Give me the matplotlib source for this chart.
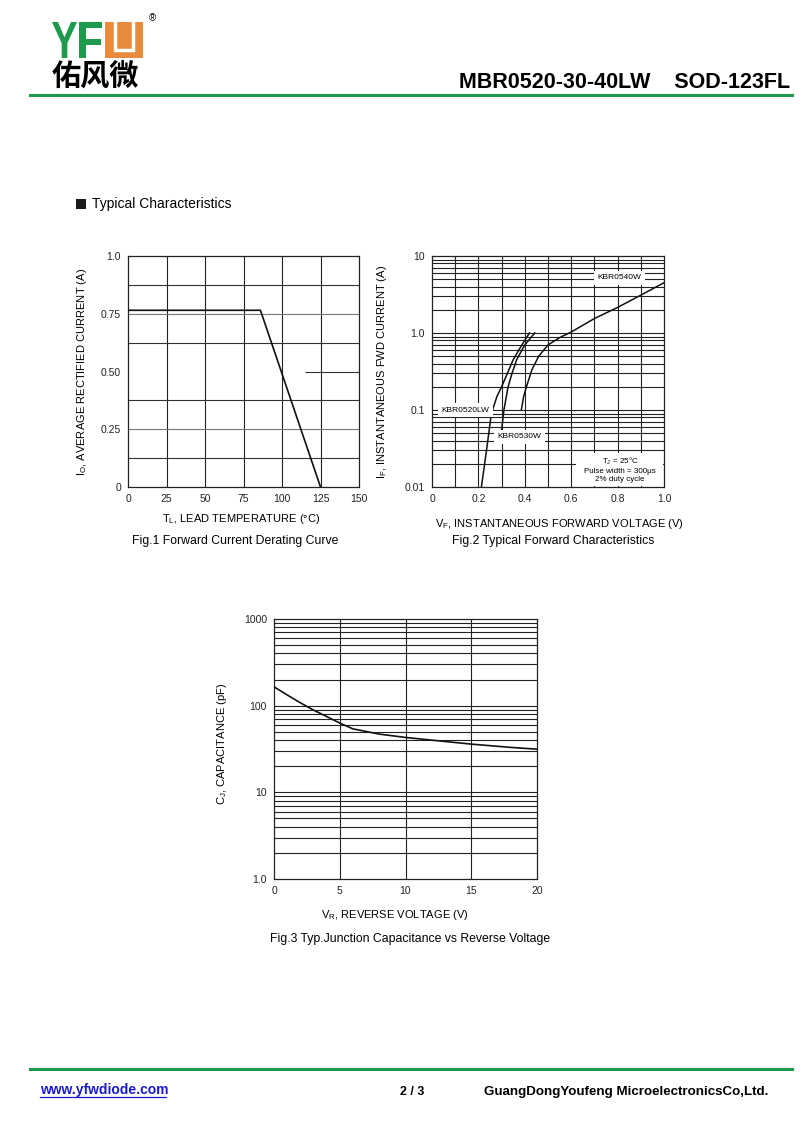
import numpy as np
import matplotlib
matplotlib.use("Agg")
import matplotlib.pyplot as plt
from matplotlib.patches import Rectangle, PathPatch
from matplotlib.textpath import TextPath
from matplotlib.font_manager import FontProperties
from matplotlib.transforms import Affine2D

plt.rcParams['font.family'] = ['Liberation Sans', 'DejaVu Sans']
plt.rcParams['axes.linewidth'] = 0.9

# Fig.1 derating curve
temp_lead = [0, 86, 125]
io_avg = [0.765, 0.765, 0.0]

# Fig.2 forward characteristics (V, A)
vf_0520 = [0.213, 0.235, 0.256, 0.28, 0.30, 0.325, 0.35, 0.385, 0.42]
if_0520 = [0.01, 0.03, 0.09, 0.15, 0.2, 0.3, 0.45, 0.68, 1.0]
vf_0530 = [0.30, 0.31, 0.328, 0.345, 0.365, 0.40, 0.443]
if_0530 = [0.055, 0.1, 0.2, 0.3, 0.45, 0.7, 1.0]
vf_0540 = [0.385, 0.395, 0.407, 0.43, 0.46, 0.50, 0.55, 0.60, 0.70, 0.80, 0.90, 1.0]
if_0540 = [0.1, 0.15, 0.2, 0.33, 0.5, 0.7, 0.87, 1.03, 1.54, 2.15, 3.1, 4.5]

# Fig.3 capacitance (V, pF)
vr = [0, 1, 2, 3, 4, 5, 6, 8, 10, 12, 15, 18, 20]
cj = [165, 133, 108, 89, 75, 63, 54, 47, 43, 40, 36, 33, 31.5]

W, H = 800, 1130
fig = plt.figure(figsize=(8, 11.3), dpi=100)
fig.patch.set_facecolor('white')

green = '#1d9a4c'
orange = '#e98a3c'


def px_axes(x0, y0, x1, y1):
    return fig.add_axes([x0 / W, 1 - y1 / H, (x1 - x0) / W, (y1 - y0) / H])


# page decorations in pixel coordinates
deco = fig.add_axes([0, 0, 1, 1])
deco.set_xlim(0, W)
deco.set_ylim(H, 0)
deco.axis('off')
deco.patch.set_visible(False)

bold = FontProperties(family='Liberation Sans', weight='bold')


def logo_letter(ch, x0, y_base, w, h, color):
    tp = TextPath((0, 0), ch, size=100, prop=bold)
    bb = tp.get_extents()
    tr = (Affine2D().translate(-bb.x0, -bb.y0)
          .scale(w / bb.width, -h / bb.height).translate(x0, y_base))
    deco.add_patch(PathPatch(tr.transform_path(tp), color=color, lw=0))


logo_letter('Y', 52, 58, 25, 36, green)
logo_letter('F', 79, 58, 23, 36, green)
deco.add_patch(Rectangle((105, 22), 38, 36, color=orange, lw=0))
deco.plot([115, 115, 133, 133], [22, 50, 50, 22], color='white', lw=2.5,
          solid_joinstyle='miter')
deco.text(152, 18, '®', fontsize=7, ha='center', va='center')
deco.text(52, 77, '佑风微', fontsize=21, fontweight='bold',
          family=['Noto Sans CJK SC', 'DejaVu Sans'], ha='left', va='center')
deco.text(790, 88, 'MBR0520-30-40LW    SOD-123FL', fontsize=15.5,
          fontweight='bold', ha='right', va='baseline')
deco.plot([30, 792], [95, 95], color=green, lw=2.2)

deco.add_patch(Rectangle((76, 199), 10, 10, color='#1a1a1a', lw=0))
deco.text(92, 204, 'Typical Characteristics', fontsize=10, va='center')

deco.text(235, 541, 'Fig.1 Forward Current Derating Curve', fontsize=8.8,
          ha='center', va='center')
deco.text(553, 541, 'Fig.2 Typical Forward Characteristics', fontsize=8.8,
          ha='center', va='center')
deco.text(410, 939, 'Fig.3 Typ.Junction Capacitance vs Reverse Voltage',
          fontsize=8.8, ha='center', va='center')

deco.plot([30, 792], [1069, 1069], color=green, lw=2.2)
deco.text(40, 1090, 'www.yfwdiode.com', color='#1a1acc', fontsize=10,
          fontproperties=bold, va='center')
deco.plot([40, 166], [1097, 1097], color='#1a1acc', lw=0.9)
deco.text(412, 1092, '2 / 3', fontsize=9, fontproperties=bold,
          ha='center', va='center')
deco.text(768, 1092, 'GuangDongYoufeng MicroelectronicsCo,Ltd.',
          fontproperties=FontProperties(family='Liberation Sans',
                                        weight='bold', size=9.6),
          ha='right', va='center')

tick_fs = 7.5
lab_fs = 8


def style(ax):
    ax.tick_params(length=0, labelsize=tick_fs, pad=5, colors='#222')
    for s in ax.spines.values():
        s.set_color('#222')


# ---------- Fig.1 ----------
ax1 = px_axes(128, 256, 359, 487)
for x in [25, 50, 75, 100, 125]:
    ax1.axvline(x, color='#222', lw=0.8, zorder=1)
for y in [0.125, 0.375, 0.625, 0.875]:
    ax1.axhline(y, color='#333', lw=0.8, zorder=1)
for y in [0.25, 0.75]:
    ax1.axhline(y, color='#777', lw=0.8, zorder=1)
ax1.hlines(0.5, 115, 150, color='#333', lw=0.8, zorder=1)
ax1.plot(temp_lead, io_avg, color='#111', lw=1.2, zorder=3)
ax1.set_xlim(0, 150)
ax1.set_ylim(0, 1.0)
ax1.set_xticks([0, 25, 50, 75, 100, 125, 150])
ax1.set_xticklabels(['0', '25', '50', '75', '100', '125', '150'])
ax1.set_yticks([0, 0.25, 0.5, 0.75, 1.0])
ax1.set_yticklabels(['0', '0.25', '0.50', '0.75', '1.0'])
style(ax1)
ax1.set_xlabel(r'T$_\mathregular{L}$, LEAD TEMPERATURE (°C)', fontsize=lab_fs)
ax1.set_ylabel(r'I$_\mathregular{O}$, AVERAGE RECTIFIED CURRENT (A)',
               fontsize=lab_fs)
ax1.xaxis.set_label_coords(0.49, -0.11)
ax1.yaxis.set_label_coords(-0.17, 0.5)

# ---------- Fig.2 ----------
ax2 = px_axes(432, 256, 664, 487)
ax2.set_yscale('log')
for x in np.arange(0.1, 1.0, 0.1):
    ax2.axvline(x, color='#222', lw=0.8, zorder=1)
for dec in [0.01, 0.1, 1.0]:
    for m in range(1, 10):
        if dec * m > 0.01:
            ax2.axhline(dec * m, color='#222', lw=0.8, zorder=1)
ax2.plot(vf_0520, if_0520, color='#111', lw=1.1, zorder=3)
ax2.plot(vf_0530, if_0530, color='#111', lw=1.1, zorder=3)
ax2.plot(vf_0540, if_0540, color='#111', lw=1.1, zorder=3)
box = dict(facecolor='white', edgecolor='none', pad=2.5)
ax2.text(0.809, 5.2, 'KBR0540W', fontsize=6, ha='center', va='center',
         bbox=box, zorder=4)
ax2.text(0.04, 0.1, 'KBR0520LW', fontsize=6, ha='left', va='center',
         bbox=box, zorder=4)
ax2.text(0.378, 0.045, 'KBR0530W', fontsize=6, ha='center', va='center',
         bbox=box, zorder=4)
ax2.add_patch(Rectangle((0.62, 0.0102), 0.375, 0.0276 - 0.0102,
                        facecolor='white', edgecolor='none', zorder=2))
ax2.text(0.81, 0.0168,
         'T$_\\mathregular{J}$ = 25°C\nPulse width = 300μs\n2% duty cycle',
         fontsize=5.8, ha='center', va='center', linespacing=1.2, zorder=4)
ax2.set_xlim(0, 1.0)
ax2.set_ylim(0.01, 10)
ax2.set_xticks([0, 0.2, 0.4, 0.6, 0.8, 1.0])
ax2.set_xticklabels(['0', '0.2', '0.4', '0.6', '0.8', '1.0'])
ax2.set_yticks([0.01, 0.1, 1.0, 10])
ax2.set_yticklabels(['0.01', '0.1', '1.0', '10'])
ax2.yaxis.set_minor_locator(matplotlib.ticker.NullLocator())
style(ax2)
ax2.set_xlabel(r'V$_\mathregular{F}$, INSTANTANEOUS FORWARD VOLTAGE (V)',
               fontsize=lab_fs)
ax2.set_ylabel(r'I$_\mathregular{F}$, INSTANTANEOUS FWD CURRENT (A)',
               fontsize=lab_fs)
ax2.xaxis.set_label_coords(0.55, -0.13)
ax2.yaxis.set_label_coords(-0.185, 0.5)

# ---------- Fig.3 ----------
ax3 = px_axes(274, 619, 537, 879)
ax3.set_yscale('log')
for x in [5, 10, 15]:
    ax3.axvline(x, color='#222', lw=0.8, zorder=1)
for dec in [1.0, 10.0, 100.0]:
    for m in range(1, 10):
        if dec * m > 1.0:
            ax3.axhline(dec * m, color='#222', lw=0.8, zorder=1)
ax3.plot(vr, cj, color='#111', lw=1.2, zorder=3)
ax3.set_xlim(0, 20)
ax3.set_ylim(1.0, 1000)
ax3.set_xticks([0, 5, 10, 15, 20])
ax3.set_yticks([1, 10, 100, 1000])
ax3.set_yticklabels(['1.0', '10', '100', '1000'])
ax3.yaxis.set_minor_locator(matplotlib.ticker.NullLocator())
style(ax3)
ax3.set_xlabel(r'V$_\mathregular{R}$, REVERSE VOLTAGE (V)', fontsize=lab_fs)
ax3.set_ylabel(r'C$_\mathregular{J}$, CAPACITANCE (pF)', fontsize=lab_fs)
ax3.xaxis.set_label_coords(0.46, -0.11)
ax3.yaxis.set_label_coords(-0.17, 0.52)

fig.savefig('out.png', dpi=100, facecolor='white')
